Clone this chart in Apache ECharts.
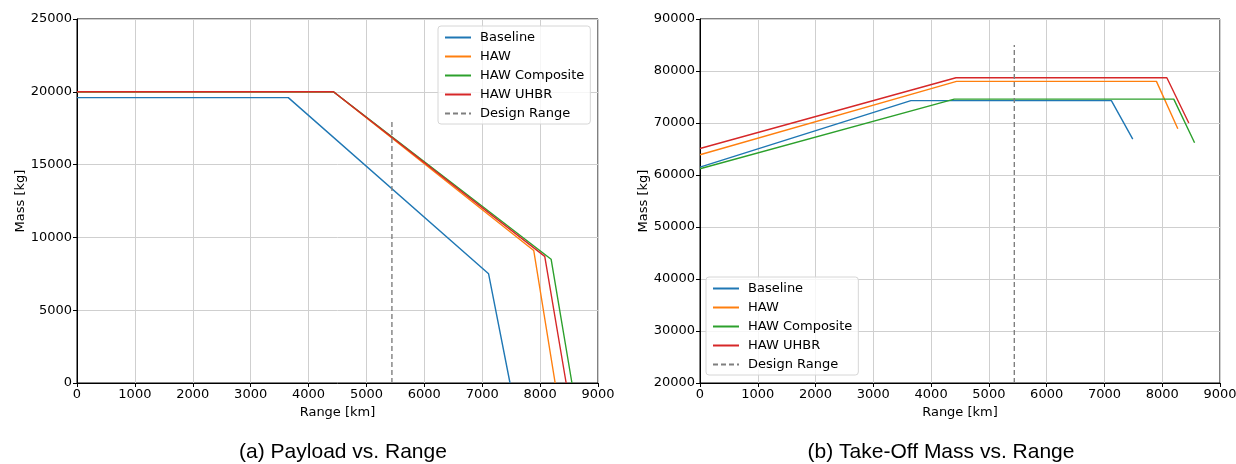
<!DOCTYPE html>
<html>
<head>
<meta charset="utf-8">
<script src="https://cdn.jsdelivr.net/npm/echarts@6/dist/echarts.min.js"></script>
<style>
  html, body { margin: 0; padding: 0; background: #fff; }
  #chart { width: 1236px; height: 464px; }
</style>
</head>
<body>
<div id="chart"></div>
<script>
const seriesNames = ["Baseline", "HAW", "HAW Composite", "HAW UHBR"];
const seriesColors = ["#1f77b4", "#ff7f0e", "#2ca02c", "#d62728"];

// (a) payload vs range
const baselinePayloadRange = [0, 3650, 7110, 7480];
const baselinePayload = [19600, 19600, 7500, 0];
const hawPayloadRange = [0, 4430, 7890, 8260];
const hawPayload = [20000, 20000, 9100, 0];
const compositePayloadRange = [0, 4430, 8190, 8550];
const compositePayload = [20000, 20000, 8500, 0];
const uhbrPayloadRange = [0, 4430, 8080, 8450];
const uhbrPayload = [20000, 20000, 8700, 0];
const designRangePayloadX = [5440, 5440];
const designRangePayloadY = [0, 18000];

// (b) take-off mass vs range
const baselineTomRange = [0, 3650, 7120, 7490];
const baselineTom = [61500, 74300, 74300, 66900];
const hawTomRange = [0, 4440, 7900, 8270];
const hawTom = [63900, 78000, 78000, 68900];
const compositeTomRange = [0, 4400, 8200, 8560];
const compositeTom = [61200, 74600, 74600, 66200];
const uhbrTomRange = [0, 4430, 8080, 8460];
const uhbrTom = [65100, 78700, 78700, 70000];
const designRangeTomX = [5440, 5440];
const designRangeTomY = [20000, 85000];

const xTicks = [0, 9000, 1000];
const payloadTicks = [0, 25000, 5000];
const tomTicks = [20000, 90000, 10000];

function zip(xs, ys) {
  return xs.map((x, i) => [x, ys[i]]);
}

const payloadData = [
  zip(baselinePayloadRange, baselinePayload),
  zip(hawPayloadRange, hawPayload),
  zip(compositePayloadRange, compositePayload),
  zip(uhbrPayloadRange, uhbrPayload)
];
const tomData = [
  zip(baselineTomRange, baselineTom),
  zip(hawTomRange, hawTom),
  zip(compositeTomRange, compositeTom),
  zip(uhbrTomRange, uhbrTom)
];

const font = "DejaVu Sans";

function xAxis(gridIndex) {
  return {
    type: "value",
    gridIndex: gridIndex,
    min: xTicks[0],
    max: xTicks[1],
    interval: xTicks[2],
    name: "Range [km]",
    nameLocation: "middle",
    nameGap: 22,
    nameTextStyle: { color: "#000", fontSize: 13, fontFamily: font },
    axisLine: { show: true, lineStyle: { color: "#000", width: 1 } },
    axisTick: { show: true, length: 4, lineStyle: { color: "#000" } },
    axisLabel: { color: "#000", fontSize: 13, fontFamily: font, margin: 5, formatter: v => String(v) },
    splitLine: { show: true, lineStyle: { color: "#cfcfcf", width: 1 } }
  };
}

function yAxis(gridIndex, ticks) {
  return {
    type: "value",
    gridIndex: gridIndex,
    min: ticks[0],
    max: ticks[1],
    interval: ticks[2],
    name: "Mass [kg]",
    nameLocation: "middle",
    nameGap: 49,
    nameTextStyle: { color: "#000", fontSize: 13, fontFamily: font },
    axisLine: { show: true, lineStyle: { color: "#000", width: 1 } },
    axisTick: { show: true, length: 4, lineStyle: { color: "#000" } },
    axisLabel: { color: "#000", fontSize: 13, fontFamily: font, margin: 5, formatter: v => String(v) },
    splitLine: { show: true, lineStyle: { color: "#cfcfcf", width: 1 } }
  };
}

function lineSeries(name, color, data, idx) {
  return {
    name: name,
    type: "line",
    xAxisIndex: idx,
    yAxisIndex: idx,
    data: data,
    symbol: "none",
    animation: false,
    color: color,
    lineStyle: { color: color, width: 1.4 }
  };
}

const series = [];
seriesNames.forEach((n, i) => {
  series.push(lineSeries(n, seriesColors[i], payloadData[i], 0));
});
series.push(Object.assign(lineSeries("Design Range", "#7f7f7f", zip(designRangePayloadX, designRangePayloadY), 0), {
  lineStyle: { color: "#7f7f7f", width: 1.4, type: [5, 3] }
}));
seriesNames.forEach((n, i) => {
  series.push(lineSeries(n, seriesColors[i], tomData[i], 1));
});
series.push(Object.assign(lineSeries("Design Range", "#7f7f7f", zip(designRangeTomX, designRangeTomY), 1), {
  lineStyle: { color: "#7f7f7f", width: 1.4, type: [5, 3] }
}));

function legend(left, top) {
  return {
    orient: "vertical",
    left: left,
    top: top,
    data: seriesNames.concat(["Design Range"]),
    itemWidth: 26,
    itemHeight: 12,
    itemGap: 6,
    padding: [5, 6, 4, 6],
    borderColor: "#d6d6d6",
    borderWidth: 1,
    borderRadius: 3,
    backgroundColor: "rgba(255,255,255,0.8)",
    itemStyle: { opacity: 0 },
    textStyle: { color: "#000", fontSize: 13, fontFamily: font, padding: [0, 0, 0, 4] },
    selectedMode: false
  };
}

const chart = echarts.init(document.getElementById("chart"));
chart.setOption({
  backgroundColor: "#fff",
  title: [
    {
      text: "(a) Payload vs. Range",
      left: 338, top: 437, textAlign: "center",
      textStyle: { color: "#000", fontSize: 21, fontWeight: "normal", fontFamily: "Liberation Sans" }
    },
    {
      text: "(b) Take-Off Mass vs. Range",
      left: 936, top: 437, textAlign: "center",
      textStyle: { color: "#000", fontSize: 21, fontWeight: "normal", fontFamily: "Liberation Sans" }
    }
  ],
  grid: [
    { left: 77, right: 638, top: 19, bottom: 81, show: true, borderColor: "#000", borderWidth: 1, outerBoundsMode: "none" },
    { left: 700, right: 16, top: 19, bottom: 81, show: true, borderColor: "#000", borderWidth: 1, outerBoundsMode: "none" }
  ],
  xAxis: [xAxis(0), xAxis(1)],
  yAxis: [yAxis(0, payloadTicks), yAxis(1, tomTicks)],
  legend: [legend(438, 26), legend(706, 277)],
  series: series
});
</script>
</body>
</html>
